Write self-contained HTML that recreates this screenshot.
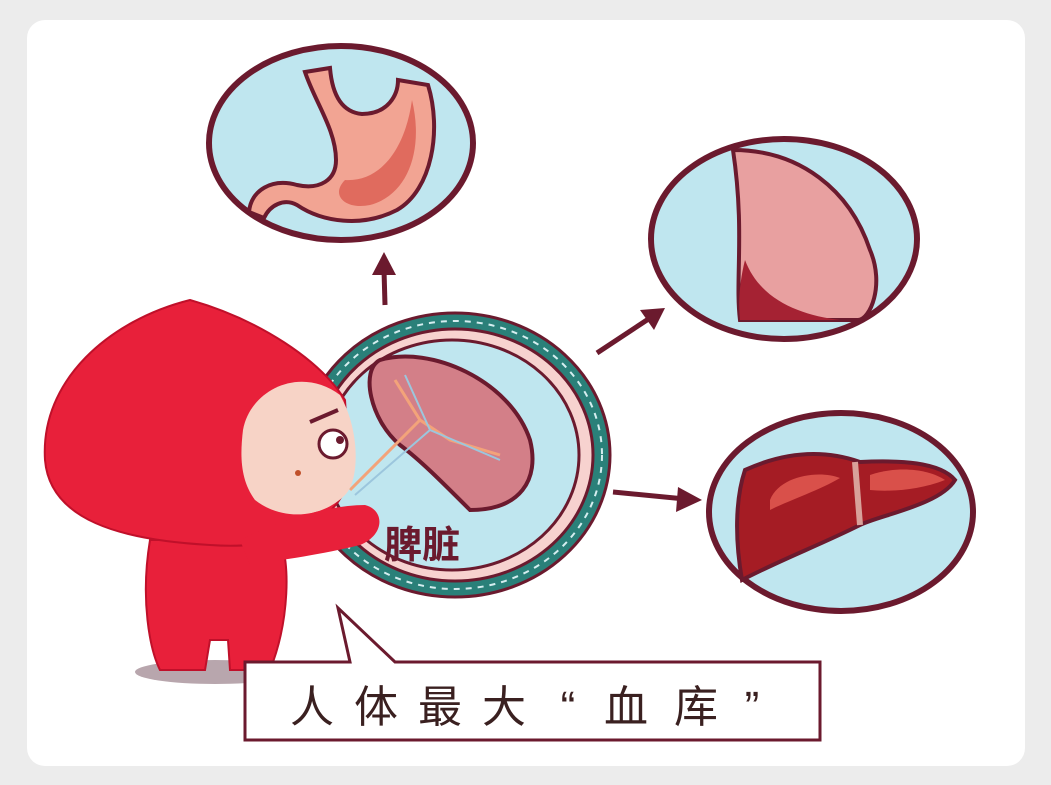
<!DOCTYPE html>
<html><head><meta charset="utf-8"><style>
html,body{margin:0;padding:0;background:#ececec;}
svg{display:block}
</style></head><body>
<svg width="1051" height="785" viewBox="0 0 1051 785" xmlns="http://www.w3.org/2000/svg">
<rect x="0" y="0" width="1051" height="785" fill="#ececec"/>
<rect x="27" y="20" width="998" height="746" rx="18" fill="#fff"/>
<g stroke="#6b1a2e" stroke-width="6">
<ellipse cx="341" cy="143" rx="132" ry="97" fill="#bfe6ef"/>
<ellipse cx="784" cy="239" rx="133" ry="100" fill="#bfe6ef"/>
<ellipse cx="841" cy="512" rx="132" ry="99" fill="#bfe6ef"/>
</g>
<!-- stomach -->
<path d="M305 72 L330 68 C332 92 340 112 362 114 C388 114 398 95 398 80 L428 85 C442 130 432 190 397 210 C362 228 322 222 297 205 C284 198 270 205 264 218 L249 212 C251 190 272 178 297 185 C320 190 336 180 336 160 C336 130 315 102 305 72Z" fill="#f2a493" stroke="#6b1a2e" stroke-width="4"/>
<path d="M345 180 C380 182 405 150 412 100 C424 150 408 195 370 205 C345 210 330 195 345 180Z" fill="#e06b5e"/>
<!-- lung -->
<path d="M733 150 C800 150 850 190 870 250 C885 285 870 320 858 320 L740 320 C735 280 745 230 733 150Z" fill="#e8a0a0" stroke="#6b1a2e" stroke-width="4"/>
<path d="M745 260 C760 300 800 315 840 320 L740 320 C738 300 740 280 745 260Z" fill="#a52233"/>
<!-- liver -->
<path d="M745 470 C800 445 840 455 860 462 C900 460 940 462 955 480 C940 505 880 515 860 525 C820 545 780 560 742 580 C735 540 735 500 745 470Z" fill="#a51c24" stroke="#6b1a2e" stroke-width="4"/>
<path d="M770 500 C780 475 820 470 840 478 C820 490 790 500 770 510Z" fill="#d9504a"/>
<path d="M870 475 C900 465 930 470 945 480 C920 490 890 492 870 490Z" fill="#d9504a"/>
<path d="M855 462 L860 525" stroke="#d8a19a" stroke-width="6"/>
<!-- arrows -->
<g stroke="#6b1a2e" stroke-width="5" fill="#6b1a2e">
<line x1="385" y1="305" x2="384" y2="270"/>
<polygon points="372,275 384,252 396,275" stroke="none"/>
<line x1="597" y1="353" x2="650" y2="318"/>
<polygon points="640,310 665,308 654,330" stroke="none"/>
<line x1="613" y1="492" x2="685" y2="499"/>
<polygon points="678,487 702,500 676,512" stroke="none"/>
</g>
<!-- spleen circle -->
<ellipse cx="455" cy="455" rx="155" ry="142" fill="#2a8079" stroke="#6b1a2e" stroke-width="3"/>
<ellipse cx="455" cy="455" rx="147" ry="134" fill="none" stroke="#d5eef0" stroke-width="2" stroke-dasharray="6 6"/>
<ellipse cx="455" cy="455" rx="138" ry="126" fill="#f7d2cf" stroke="#6b1a2e" stroke-width="3"/>
<ellipse cx="452" cy="455" rx="127" ry="115" fill="#bfe6ef" stroke="#6b1a2e" stroke-width="3"/>
<path d="M380 360 C430 345 510 380 530 440 C540 480 520 510 470 510 C440 480 420 460 400 445 C370 420 360 370 380 360Z" fill="#d37f88" stroke="#6b1a2e" stroke-width="4"/>
<path d="M395 380 L420 420 L450 440 L500 455 M420 420 L350 490" stroke="#f3a37a" stroke-width="3" fill="none"/>
<path d="M405 375 L430 430 L500 460 M430 430 L355 495" stroke="#9cc6dd" stroke-width="2" fill="none"/>
<text x="384" y="558" font-family="Liberation Sans, 'Noto Sans CJK SC', sans-serif" font-size="38" font-weight="bold" fill="#6b1a2e">脾脏</text>
<!-- character -->
<ellipse cx="215" cy="672" rx="80" ry="12" fill="#b8a6ad"/>
<path d="M150 540 C140 600 150 650 160 670 L205 670 L210 640 L228 640 L230 670 L270 670 C290 620 290 560 280 540Z" fill="#e8203a" stroke="#c0102a" stroke-width="2"/>
<path d="M45 460 C40 380 110 320 190 300 C260 320 320 360 345 400 L350 480 C330 530 280 550 210 545 C120 540 50 520 45 460Z" fill="#e8203a" stroke="#c0102a" stroke-width="2"/>
<path d="M243 430 C250 390 300 365 340 395 C360 430 360 480 345 495 C320 520 280 520 255 500 C240 480 240 455 243 430Z" fill="#f7d3c6"/>
<circle cx="333" cy="444" r="14" fill="#fff" stroke="#6b1a2e" stroke-width="3"/>
<circle cx="340" cy="440" r="4" fill="#6b1a2e"/>
<path d="M310 422 L338 410" stroke="#6b1a2e" stroke-width="4"/>
<circle cx="298" cy="473" r="3" fill="#c0502a"/>
<path d="M240 540 C280 520 330 505 365 505 C385 510 385 535 360 545 C320 555 280 560 250 565Z" fill="#e8203a"/>
<!-- speech box -->
<path d="M245 662 L350 662 L338 608 L395 662 L820 662 L820 740 L245 740Z" fill="#fff" stroke="#6b1a2e" stroke-width="3"/>
<g font-family="Liberation Sans, 'Noto Sans CJK SC', sans-serif" font-size="44" fill="#3a2020" text-anchor="middle">
<text x="312" y="722">人</text><text x="376" y="722">体</text><text x="440" y="722">最</text><text x="504" y="722">大</text>
<text x="568" y="722">“</text><text x="626" y="722">血</text><text x="696" y="722">库</text><text x="752" y="722">”</text>
</g>
</svg>
</body></html>
